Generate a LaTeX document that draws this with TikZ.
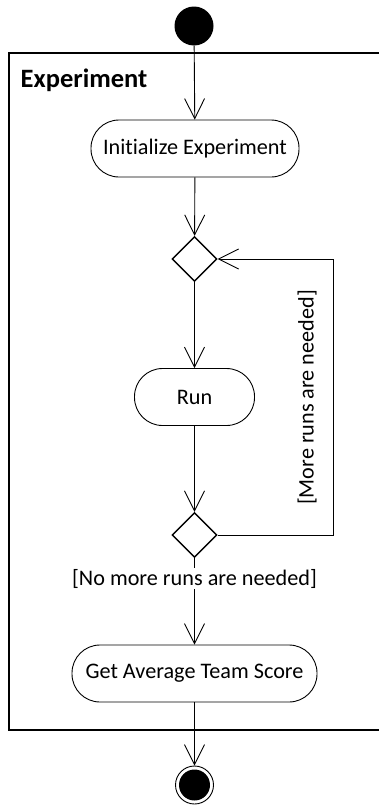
\documentclass[tikz,border=0pt]{standalone}
\usepackage{fontspec}
\setmainfont{Carlito}[Ligatures=NoCommon]
\usetikzlibrary{arrows.meta,shapes.geometric}
\begin{document}
\begin{tikzpicture}[x=1pt,y=-1pt,
  act/.style={draw,line width=0.9pt,rectangle,rounded corners=28pt,minimum height=57pt,inner sep=0pt,font=\fontsize{22.2}{26}\selectfont},
  dec/.style={draw,line width=1.4pt,diamond,minimum width=45pt,minimum height=45pt,inner sep=0pt},
  flow/.style={line width=0.9pt,-{Straight Barb[length=20pt,width=20pt,line width=0.9pt]}},
  lbl/.style={font=\fontsize{22.2}{26}\selectfont,inner sep=1pt}]
\useasboundingbox (0,0) rectangle (379,806);
\draw[line width=1.4pt] (380,53) -- (9,53) -- (9,730) -- (380,730);
\node[anchor=base west,font=\bfseries\fontsize{26.5}{30}\selectfont,inner sep=0pt] (title) at (20.5,87) {Experiment};
\node[circle,fill=black,minimum size=39pt,inner sep=0pt] (start) at (194,26) {};
\node[act,minimum width=208pt] (init) at (195,148.5) {Initialize Experiment};
\node[dec] (d1) at (194.5,259) {};
\node[act,minimum width=120pt] (run) at (194.5,397) {Run};
\node[dec] (d2) at (194.5,535) {};
\node[act,minimum width=245pt] (avg) at (194.5,673.5) {Get Average Team Score};
\node[circle,draw,line width=0.9pt,minimum size=38pt,inner sep=0pt] (end) at (194.5,785) {};
\node[circle,fill=black,minimum size=31pt,inner sep=0pt] (endin) at (end.center) {};
\coordinate (c1) at (333,535);
\coordinate (c2) at (333,259);
\draw[flow] (start) -- (init);
\draw[flow] (init) -- (d1);
\draw[flow] (d1) -- (run);
\draw[flow] (run) -- (d2);
\draw[flow] (d2) -- node[lbl,fill=white,pos=0.24] (nomore) {[No more runs are needed]} (avg);
\draw[flow] (avg) -- (end);
\draw[flow] (d2.east) -- (c1) -- (c2) -- (d1.east);
\node[lbl,rotate=90] (more) at (307,397.5) {[More runs are needed]};
\end{tikzpicture}
\end{document}
